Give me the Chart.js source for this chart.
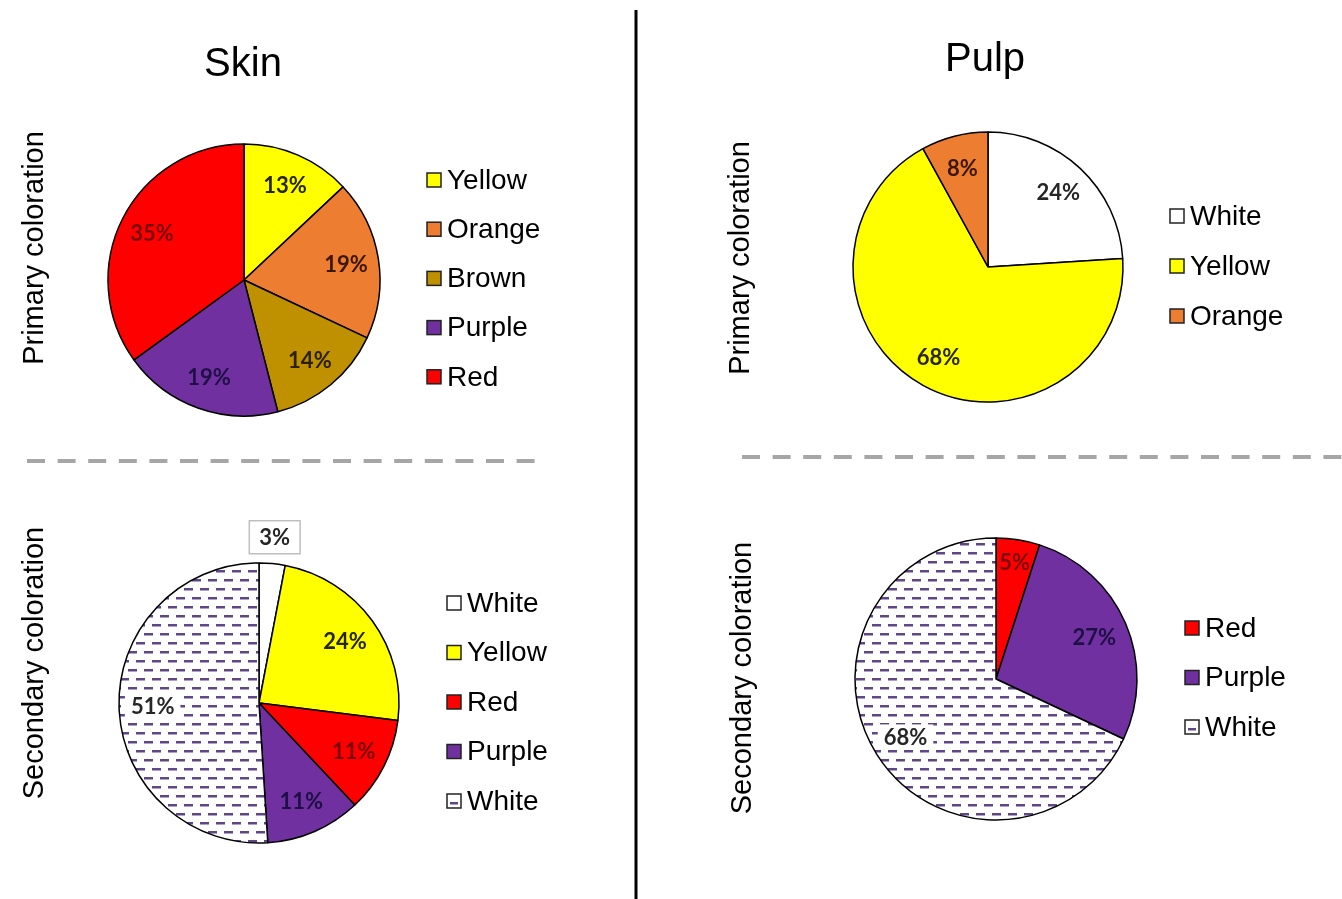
<!DOCTYPE html>
<html>
<head>
<meta charset="utf-8">
<script src="https://cdn.jsdelivr.net/npm/chart.js@4.4.1/dist/chart.umd.min.js"></script>
<style>
  body { margin: 0; background: #fff; }
  #page { position: relative; width: 1342px; height: 899px; overflow: hidden; font-family: "Liberation Sans", Arial, sans-serif; color: #000; }
  #page canvas, #page svg { position: absolute; left: 0; top: 0; }
  .title { position: absolute; font-size: 40px; white-space: nowrap; transform: translate(-50%, -50%); }
  .side { position: absolute; font-size: 29px; white-space: nowrap; transform: translate(-50%, -50%) rotate(-90deg); }
</style>
</head>
<body>
<div id="page">
  <svg width="1342" height="899">
    <line x1="636" y1="10" x2="636" y2="899" stroke="#000" stroke-width="3"/>
    <line x1="27" y1="461" x2="545" y2="461" stroke="#a6a6a6" stroke-width="4" stroke-dasharray="18 12.6"/>
    <line x1="742" y1="457" x2="1342" y2="457" stroke="#a6a6a6" stroke-width="4" stroke-dasharray="18 12.6"/>
  </svg>
  <canvas id="skinPrimary" width="1342" height="899"></canvas>
  <canvas id="skinSecondary" width="1342" height="899"></canvas>
  <canvas id="pulpPrimary" width="1342" height="899"></canvas>
  <canvas id="pulpSecondary" width="1342" height="899"></canvas>
  <div class="title" style="left:243px; top:62px;">Skin</div>
  <div class="title" style="left:985px; top:57px;">Pulp</div>
  <div class="side" style="left:33px; top:248px;">Primary coloration</div>
  <div class="side" style="left:33px; top:663px;">Secondary coloration</div>
  <div class="side" style="left:739px; top:258px;">Primary coloration</div>
  <div class="side" style="left:741px; top:678px;">Secondary coloration</div>
</div>
<script>
// --- data (percent of samples) ---
const skinPrimaryLabels = ["Yellow", "Orange", "Brown", "Purple", "Red"];
const skinPrimaryValues = [13, 19, 14, 19, 35];

const skinSecondaryLabels = ["White", "Yellow", "Red", "Purple", "White"];
const skinSecondaryValues = [3, 24, 11, 11, 51];

const pulpPrimaryLabels = ["White", "Yellow", "Orange"];
const pulpPrimaryValues = [24, 68, 8];

const pulpSecondaryLabels = ["Red", "Purple", "White"];
const pulpSecondaryValues = [5, 27, 68];

// fill keys per slice (second "White" on skin is the dashed one)
const skinPrimaryFills = ["yellow", "orange", "brown", "purple", "red"];
const skinSecondaryFills = ["white", "yellow", "red", "purple", "dashed"];
const pulpPrimaryFills = ["white", "yellow", "orange"];
const pulpSecondaryFills = ["red", "purple", "dashed"];

const DASH_COLOR = "#5e4688";

// white with short purple dashes
function dashPattern() {
  const c = document.createElement("canvas");
  c.width = 16; c.height = 18;
  const g = c.getContext("2d");
  g.fillStyle = "#fff";
  g.fillRect(0, 0, 16, 18);
  g.fillStyle = DASH_COLOR;
  g.fillRect(0, 3, 9, 2.5);
  g.fillRect(8, 12, 8, 2.5);
  g.fillRect(0, 12, 1, 2.5);
  return g.createPattern(c, "repeat");
}

const palette = {
  yellow: { fill: "#ffff00", text: "#262600" },
  orange: { fill: "#ed7d31", text: "#3a1600" },
  brown:  { fill: "#bf9000", text: "#2b2000" },
  purple: { fill: "#7030a0", text: "#1e0f45" },
  red:    { fill: "#ff0000", text: "#780000" },
  white:  { fill: "#ffffff", text: "#262626" },
  dashed: { fill: dashPattern(), text: "#262626" }
};

// percentage labels inside the slices (or boxed outside for thin ones)
const sliceLabels = {
  id: "sliceLabels",
  afterDatasetsDraw(chart, args, opts) {
    const ctx = chart.ctx;
    const meta = chart.getDatasetMeta(0);
    const ds = chart.data.datasets[0];
    ctx.save();
    ctx.font = "bold 22px Lato";
    ctx.textAlign = "center";
    ctx.textBaseline = "middle";
    meta.data.forEach((arc, i) => {
      const p = arc.getProps(["x", "y", "startAngle", "endAngle", "outerRadius"], true);
      const mid = (p.startAngle + p.endAngle) / 2;
      const outside = (opts.outside || []).includes(i);
      const frac = (opts.fracs && opts.fracs[i]) || opts.frac;
      const dist = outside ? p.outerRadius + 27 : p.outerRadius * frac;
      const tx = p.x + Math.cos(mid) * dist;
      const ty = p.y + Math.sin(mid) * dist;
      const text = ds.data[i] + "%";
      const w = ctx.measureText(text).width;
      if (outside) {
        ctx.fillStyle = "#fff";
        ctx.fillRect(tx - w / 2 - 10, ty - 16, w + 20, 33);
        ctx.strokeStyle = "#bfbfbf";
        ctx.lineWidth = 1.5;
        ctx.strokeRect(tx - w / 2 - 10, ty - 16, w + 20, 33);
      } else if (typeof ds.backgroundColor[i] !== "string") {
        // clear the dashes behind text on patterned slices
        ctx.fillStyle = "#fff";
        ctx.fillRect(tx - w / 2 - 6, ty - 12, w + 12, 25);
      }
      ctx.fillStyle = opts.colors[i];
      ctx.fillText(text, tx, ty + 1);
    });
    ctx.restore();
  }
};

// legend column to the right of each pie
const sideLegend = {
  id: "sideLegend",
  afterDraw(chart, args, opts) {
    const ctx = chart.ctx;
    const ds = chart.data.datasets[0];
    ctx.save();
    ctx.font = "28px 'Liberation Sans', Arial";
    ctx.textBaseline = "middle";
    chart.data.labels.forEach((label, i) => {
      const y = opts.y + i * opts.gap;
      const fill = ds.backgroundColor[i];
      const patterned = typeof fill !== "string";
      ctx.fillStyle = patterned ? "#fff" : fill;
      ctx.fillRect(opts.x, y - 7, 14, 14);
      if (patterned) {
        ctx.fillStyle = DASH_COLOR;
        ctx.fillRect(opts.x + 3, y + 1, 8, 2.5);
      }
      ctx.strokeStyle = "#222";
      ctx.lineWidth = 1.5;
      ctx.strokeRect(opts.x, y - 7, 14, 14);
      ctx.fillStyle = "#000";
      ctx.fillText(label, opts.x + 20, y + 1);
    });
    ctx.restore();
  }
};

function makePie(id, labels, values, fills, geo, legend, outside, fracs) {
  const W = 1342, H = 899, half = 160;
  new Chart(document.getElementById(id), {
    type: "pie",
    data: {
      labels: labels,
      datasets: [{
        data: values,
        backgroundColor: fills.map(k => palette[k].fill),
        borderColor: "#000",
        borderWidth: 1.5,
        radius: geo.r
      }]
    },
    options: {
      responsive: false,
      animation: false,
      events: [],
      layout: {
        padding: { left: geo.cx - half, right: W - geo.cx - half, top: geo.cy - half, bottom: H - geo.cy - half }
      },
      plugins: {
        legend: { display: false },
        tooltip: { enabled: false },
        sliceLabels: { frac: 0.76, fracs: fracs, colors: fills.map(k => palette[k].text), outside: outside },
        sideLegend: legend
      }
    },
    plugins: [sliceLabels, sideLegend]
  });
}

makePie("skinPrimary", skinPrimaryLabels, skinPrimaryValues, skinPrimaryFills,
  { cx: 244, cy: 280, r: 136 }, { x: 427, y: 180, gap: 49.2 }, []);
makePie("skinSecondary", skinSecondaryLabels, skinSecondaryValues, skinSecondaryFills,
  { cx: 259, cy: 703, r: 140 }, { x: 447, y: 603, gap: 49.5 }, [0]);
makePie("pulpPrimary", pulpPrimaryLabels, pulpPrimaryValues, pulpPrimaryFills,
  { cx: 988, cy: 267, r: 135 }, { x: 1170, y: 216, gap: 50 }, []);
makePie("pulpSecondary", pulpSecondaryLabels, pulpSecondaryValues, pulpSecondaryFills,
  { cx: 996, cy: 679, r: 141 }, { x: 1185, y: 628, gap: 49.5 }, [], [0.84]);
</script>
</body>
</html>
